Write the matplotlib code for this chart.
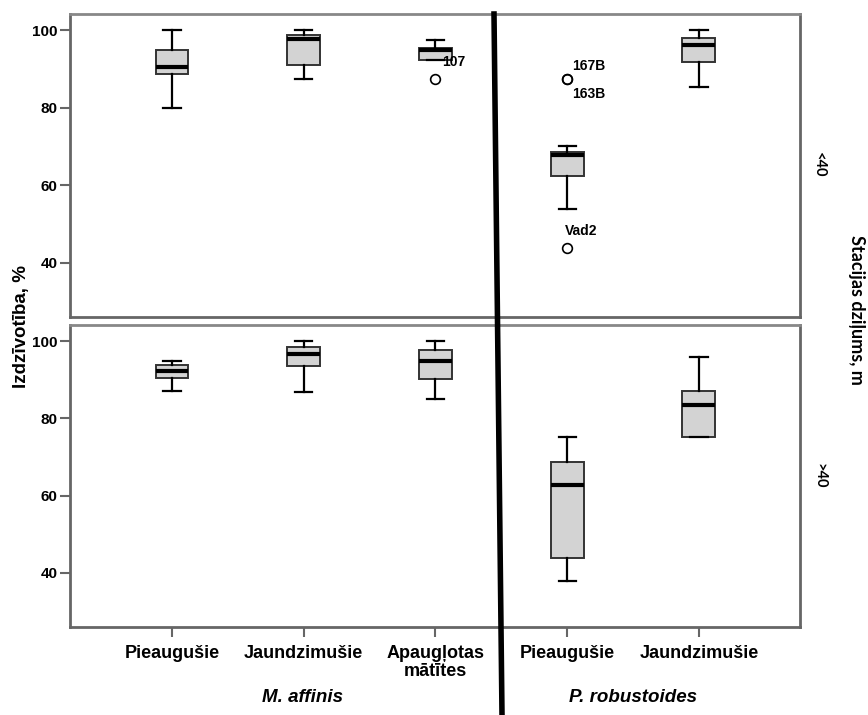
import matplotlib.pyplot as plt
from matplotlib.lines import Line2D

# categories on the x axis (M. affinis: 3, P. robustoides: 2)
categories = ['Pieaugušie', 'Jaundzimušie', 'Apaugļotas\nmātītes', 'Pieaugušie', 'Jaundzimušie']
species = ['M. affinis', 'P. robustoides']
depth_groups = ['<40', '>40']

# station depth <40 m
shallow_whislo = [80.0, 87.5, 92.4, 54.0, 85.4]
shallow_q1 = [88.6, 91.0, 92.4, 62.4, 91.7]
shallow_med = [90.5, 97.7, 94.8, 67.7, 96.1]
shallow_q3 = [95.0, 98.7, 95.3, 68.6, 98.1]
shallow_whishi = [100.0, 100.0, 97.4, 70.1, 100.0]
shallow_fliers = [[], [], [87.4], [87.5, 87.5, 43.7], []]
shallow_flier_ids = [[], [], ['107'], ['167B', '163B', 'Vad2'], []]

# station depth >40 m
deep_whislo = [87.2, 86.8, 85.1, 37.9, 75.2]
deep_q1 = [90.4, 93.5, 90.1, 43.9, 75.2]
deep_med = [92.3, 96.7, 95.0, 62.7, 83.4]
deep_q3 = [93.9, 98.6, 97.6, 68.7, 87.1]
deep_whishi = [95.0, 100.0, 100.0, 75.2, 95.9]
deep_fliers = [[], [], [], [], []]

plt.rcParams['font.family'] = ['Liberation Sans', 'DejaVu Sans']
plt.rcParams['font.weight'] = 'bold'

W, H = 868, 715
fig = plt.figure(figsize=(W / 100, H / 100), dpi=100)


def px_axes(x0, y0, x1, y1):
    return fig.add_axes([x0 / W, 1 - y1 / H, (x1 - x0) / W, (y1 - y0) / H])


def make_stats(lo, q1, med, q3, hi, fl):
    return [dict(whislo=a, q1=b, med=c, q3=d, whishi=e, fliers=f)
            for a, b, c, d, e, f in zip(lo, q1, med, q3, hi, fl)]


# offsets (pixels) for outlier id labels
label_offsets = {'107': (7, 17), '167B': (5, 13), '163B': (5, -15), 'Vad2': (-2, 17)}

ax_top = px_axes(70, 14, 800, 317)
ax_bot = px_axes(70, 325, 800, 627)
positions = list(range(1, len(categories) + 1))

panels = [
    (ax_top, make_stats(shallow_whislo, shallow_q1, shallow_med, shallow_q3, shallow_whishi, shallow_fliers)),
    (ax_bot, make_stats(deep_whislo, deep_q1, deep_med, deep_q3, deep_whishi, deep_fliers)),
]

frame_col = '#666666'
for ax, st in panels:
    ax.bxp(st, positions=positions, widths=0.25, capwidths=0.13, patch_artist=True,
           boxprops=dict(facecolor='#d3d3d3', edgecolor='#333333', linewidth=1.4),
           medianprops=dict(color='black', linewidth=3, solid_capstyle='butt'),
           whiskerprops=dict(color='black', linewidth=1.6),
           capprops=dict(color='black', linewidth=1.6),
           flierprops=dict(marker='o', markerfacecolor='none', markeredgecolor='black',
                           markersize=7, markeredgewidth=1.2))
    ax.set_xlim(0.226, 5.767)
    ax.set_ylim(26, 104.2)
    ax.set_yticks([40, 60, 80, 100])
    ax.tick_params(axis='y', direction='out', length=7, width=1.5, color=frame_col, labelsize=11, pad=2)
    for s in ax.spines.values():
        s.set_color(frame_col)
        s.set_linewidth(2)
    ax.spines['top'].set_color('#888888')

ax_top.tick_params(axis='x', bottom=False, labelbottom=False)
ax_bot.set_xticks(positions)
ax_bot.set_xticklabels(categories, fontsize=13, linespacing=1.05)
ax_bot.tick_params(axis='x', direction='out', length=7, width=1.5, color=frame_col, pad=6)

# outlier ids
for pos, vals, ids in zip(positions, shallow_fliers, shallow_flier_ids):
    for v, name in zip(vals, ids):
        ax_top.annotate(name, (pos, v), xytext=label_offsets[name], textcoords='offset pixels',
                        ha='left', va='center', fontsize=10)

# species labels
fig.text(303 / W, 1 - 698 / H, species[0], style='italic', ha='center', va='center', fontsize=13.5)
fig.text(633 / W, 1 - 698 / H, species[1], style='italic', ha='center', va='center', fontsize=13.5)

# depth strip labels
fig.text(819 / W, 1 - 165 / H, depth_groups[0], rotation=270, ha='center', va='center',
         family=['Lato', 'DejaVu Sans'], fontsize=10.5)
fig.text(819 / W, 1 - 476 / H, depth_groups[1], rotation=270, ha='center', va='center',
         family=['Lato', 'DejaVu Sans'], fontsize=10.5)
fig.text(857 / W, 1 - 310 / H, 'Stacijas dziļums, m', rotation=270, ha='center', va='center',
         family=['Lato', 'DejaVu Sans'], fontsize=13)

fig.text(22 / W, 1 - 326 / H, 'Izdzīvotība, %', rotation=90, ha='center', va='center', fontsize=13.5)

# thick separator between species
fig.add_artist(Line2D([494 / W, 502 / W], [1 - 14 / H, 0], transform=fig.transFigure,
                      color='black', linewidth=4))

fig.savefig('out.png', dpi=100)
